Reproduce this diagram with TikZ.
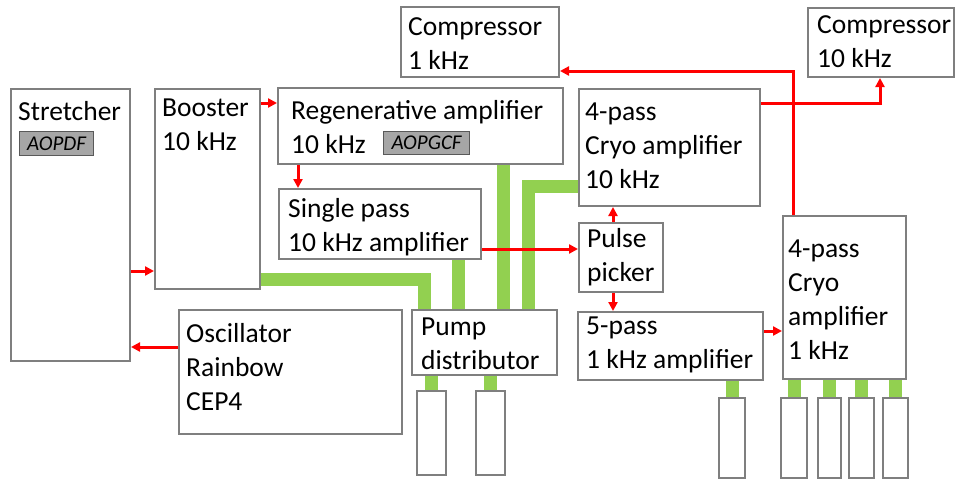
\documentclass[tikz,border=0pt]{standalone}
\usepackage{fontspec}
\setmainfont{Carlito}
\usetikzlibrary{arrows.meta,backgrounds}
\definecolor{boxgray}{HTML}{7F7F7F}
\definecolor{pumpgreen}{HTML}{92D050}
\definecolor{taggray}{HTML}{A6A6A6}
\begin{document}
\begin{tikzpicture}[x=1pt, y=-1pt,
  box/.style={draw=boxgray, line width=2pt, fill=white, anchor=north west, inner sep=0pt},
  tag/.style={draw=black!65, line width=1.2pt, fill=taggray, anchor=north west, inner sep=0pt, font=\fontsize{21}{24}\selectfont\itshape},
  lbl/.style={anchor=north west, inner sep=0pt, align=left, font=\fontsize{27.5}{34}\selectfont},
  beam/.style={red, line width=3pt, -{Triangle[length=9pt,width=9pt]}},
  pumpline/.style={pumpgreen, line width=13pt}]
\useasboundingbox (0,0) rectangle (955,479);
% boxes
\node[box, minimum width=119, minimum height=272] (stretcher) at (10,88) {};
\node[box, minimum width=105, minimum height=200] (booster) at (154,88) {};
\node[box, minimum width=285, minimum height=76] (regen) at (277,87) {};
\node[box, minimum width=202, minimum height=70] (single) at (278,188) {};
\node[box, minimum width=158, minimum height=70] (comp1) at (400,6) {};
\node[box, minimum width=146, minimum height=69] (comp10) at (807,7) {};
\node[box, minimum width=181, minimum height=117] (cryo10) at (578,88) {};
\node[box, minimum width=84, minimum height=69] (pulse) at (578,222) {};
\node[box, minimum width=185, minimum height=68] (fivepass) at (577,311) {};
\node[box, minimum width=123, minimum height=163] (cryo1) at (782,215) {};
\node[box, minimum width=223, minimum height=124] (osc) at (178,309) {};
\node[box, minimum width=145, minimum height=65] (pumpdist) at (411,309) {};
% pump heads
\node[box, minimum width=29, minimum height=84] (head1) at (416,390) {};
\node[box, minimum width=29, minimum height=84] (head2) at (475,390) {};
\node[box, minimum width=26, minimum height=80] (head3) at (718,397) {};
\node[box, minimum width=26, minimum height=80] (head4) at (780,397) {};
\node[box, minimum width=23, minimum height=80] (head5) at (817,397) {};
\node[box, minimum width=25, minimum height=80] (head6) at (848,397) {};
\node[box, minimum width=25, minimum height=80] (head7) at (882,397) {};
% labels
\node[lbl] (stretcher-t) at (18,96) {\strut Stretcher};
\node[lbl] (booster-t) at (162,92) {\strut Booster\\10 kHz};
\node[lbl] (regen-t) at (291,95) {\strut Regenerative amplifier\\10 kHz};
\node[lbl] (single-t) at (288,193) {\strut Single pass\\10 kHz amplifier};
\node[lbl] (comp1-t) at (408,11) {\strut Compressor\\1 kHz};
\node[lbl] (comp10-t) at (817,9) {\strut Compressor\\10 kHz};
\node[lbl] (cryo10-t) at (585,96) {\strut 4-pass\\Cryo amplifier\\10 kHz};
\node[lbl] (pulse-t) at (587,223) {\strut Pulse\\picker};
\node[lbl] (fivepass-t) at (586,310) {\strut 5-pass\\1 kHz amplifier};
\node[lbl] (cryo1-t) at (788,233) {\strut 4-pass\\Cryo\\amplifier\\1 kHz};
\node[lbl] (osc-t) at (186,318) {\strut Oscillator\\Rainbow\\CEP4};
\node[lbl] (pumpdist-t) at (421,311) {\strut Pump\\distributor};
\node[tag, minimum width=74, minimum height=24] (aopdf) at (19,131) {AOPDF};
\node[tag, minimum width=86, minimum height=23] (aopgcf) at (383,131) {AOPGCF};
% pump lines
\begin{scope}[on background layer]
  \draw[pumpline] ([yshift=11pt]booster.south east) -| ([xshift=13pt]pumpdist.north west);
  \draw[pumpline] ([xshift=-24pt]single.south east) coordinate (g1) -- (g1 |- pumpdist.north);
  \draw[pumpline] ([xshift=-61pt]regen.south east) coordinate (g2) -- (g2 |- pumpdist.north);
  \draw[pumpline] ([yshift=21pt]cryo10.south west) -| ([xshift=-30pt]pumpdist.north east);
  \draw[pumpline] (head1 |- pumpdist.south) -- (head1.north);
  \draw[pumpline] (head2 |- pumpdist.south) -- (head2.north);
  \draw[pumpline] (head3 |- fivepass.south) -- (head3.north);
  \draw[pumpline] (head4 |- cryo1.south) -- (head4.north);
  \draw[pumpline] (head5 |- cryo1.south) -- (head5.north);
  \draw[pumpline] (head6 |- cryo1.south) -- (head6.north);
  \draw[pumpline] (head7 |- cryo1.south) -- (head7.north);
\end{scope}
% beam path
\draw[beam] ([yshift=-38pt]osc.north west) coordinate (b1) -- (b1 -| stretcher.east);
\draw[beam] ([yshift=91pt]stretcher.south east) coordinate (b2) -- (b2 -| booster.west);
\draw[beam] ([yshift=-15pt]booster.north east) coordinate (b3) -- (b3 -| regen.west);
\draw[beam] ([xshift=21pt]regen.south west) coordinate (b4) -- (b4 |- single.north);
\draw[beam] ([yshift=11pt]single.south east) coordinate (b5) -- (b5 -| pulse.west);
\draw[beam] ([xshift=35pt]pulse.north west) coordinate (b6) -- (b6 |- cryo10.south);
\draw[beam] ([xshift=35pt]pulse.south west) coordinate (b7) -- (b7 |- fivepass.north);
\draw[beam] ([yshift=-20pt]fivepass.north east) coordinate (b8) -- (b8 -| cryo1.west);
\draw[beam] ([yshift=-15pt]cryo10.north east) -| ([xshift=73pt]comp10.south west);
\draw[beam] ([xshift=11pt]cryo1.north west) |- ([yshift=7pt]comp1.south east);
\end{tikzpicture}
\end{document}
